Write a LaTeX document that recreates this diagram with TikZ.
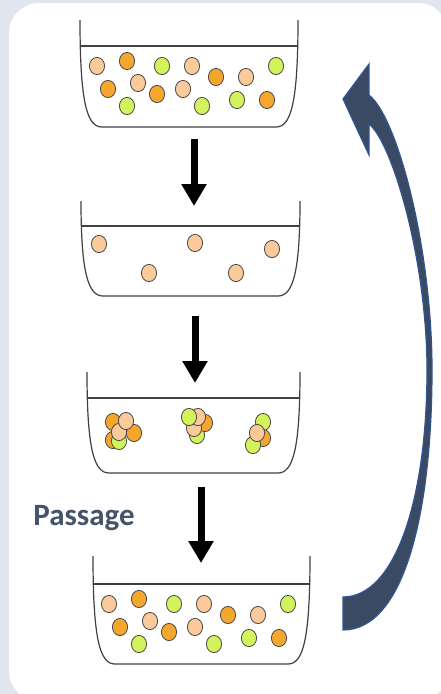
\documentclass[tikz,border=0pt]{standalone}
\usepackage{fontspec}
\setsansfont{Carlito}
\usepackage{tikz}
\usetikzlibrary{arrows.meta}
\definecolor{panelgray}{RGB}{225,229,238}
\definecolor{dishline}{RGB}{64,64,64}
\definecolor{celledge}{RGB}{70,70,70}
\definecolor{peach}{RGB}{251,202,155}
\definecolor{amber}{RGB}{245,167,45}
\definecolor{lime}{RGB}{210,243,92}
\definecolor{slate}{RGB}{68,84,106}
\definecolor{loopfill}{RGB}{59,74,99}
\definecolor{loopedge}{RGB}{47,85,151}
% dish outline: left, right, top of wall, medium surface, bottom
\newcommand{\dish}[5]{%
  \draw[dishline,line width=1.2pt] (#1,#3) .. controls (#1,#5-24) and (#1+7,#5) .. (#1+22,#5)
    -- (#2-22,#5) .. controls (#2-7,#5) and (#2,#5-24) .. (#2,#3);
  \draw[dishline,line width=1.2pt] (#1,#4) -- (#2,#4);
}
\newcommand{\cell}[3]{\filldraw[celledge,line width=0.8pt,fill=#1] (#2,#3) ellipse [x radius=7.6pt,y radius=8.6pt];}
\newcommand{\mixlist}{peach/97/66, amber/127/61, lime/162/66, peach/192/66, amber/216/77,
  peach/246/77, lime/276/66, amber/108/89, peach/138/83, amber/157/94, peach/183/89,
  lime/127/106, lime/202/106, lime/237/100, amber/267/100}

\begin{document}
\begin{tikzpicture}[x=1pt,y=-1pt]
  \useasboundingbox (0,0) rectangle (441,694);
  \clip (0,0) rectangle (441,694);
  \fill[panelgray] (0,0) rectangle (441,694);
  \fill[white,rounded corners=30pt] (9,3) rectangle (448,701);
  \dish{80}{298}{20}{46}{127}
  \foreach \c/\x/\y in \mixlist{
    \cell{\c}{\x}{\y}
  }
  \dish{81}{300}{201}{226}{296}
  \foreach \x/\y in {99/244, 195/243, 272/249, 149/273, 236/273}{
    \cell{peach}{\x}{\y}
  }
  \dish{87}{300}{372}{398}{473}
  \foreach \c/\x/\y in {amber/113/440, lime/119/441, amber/113/422, amber/134/433,
    peach/119/432, peach/126/421,
    lime/197/435, amber/205/423, peach/194/428, peach/198/417, lime/189/417,
    lime/263/422, amber/263/438, lime/253/445, peach/257/433}{
    \cell{\c}{\x}{\y}
  }
  \dish{93}{310}{556}{584}{664}
  \begin{scope}[shift={(12,538)}]
    \foreach \c/\x/\y in \mixlist{
      \cell{\c}{\x}{\y}
    }
  \end{scope}
  \coordinate (s1) at (194,139);
  \coordinate (e1) at (194,206);
  \coordinate (s2) at (195,316);
  \coordinate (e2) at (195,383);
  \coordinate (s3) at (201,487);
  \coordinate (e3) at (201,563);
  \foreach \i in {1,2,3}{
    \draw[line width=7pt,-{Triangle[width=24pt,length=22pt]}] (s\i) -- (e\i);
  }
  \node[font=\sffamily\bfseries\fontsize{31}{37}\selectfont,text=slate] (passage) at (84,518) {Passage};
  \filldraw[fill=loopfill,draw=loopedge,line width=1.2pt]
    (369,95) .. controls (398,118) and (432,250) .. (432,370)
    .. controls (432,510) and (405,630) .. (343,630) -- (343,597)
    .. controls (395,597) and (427,500) .. (427,370)
    .. controls (427,260) and (392,142) .. (369,124)
    -- (369,155) -- (343,99) -- (369,64) -- cycle;
\end{tikzpicture}
\end{document}
